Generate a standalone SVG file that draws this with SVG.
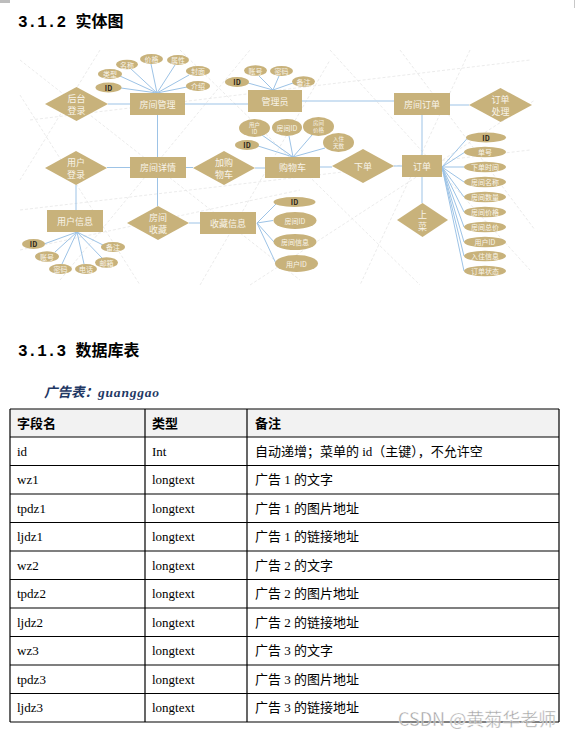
<svg xmlns="http://www.w3.org/2000/svg" width="585" height="739" viewBox="0 0 585 739">
<style>
.n{fill:#c8b27b}
.c line{stroke:#9dc3e6;stroke-width:1}
.bg line{stroke:#e6e6e6;stroke-width:0.8;stroke-dasharray:3 2}
.t{font-family:"Noto Sans CJK SC",sans-serif;fill:#f8f4ea;text-anchor:middle;dominant-baseline:central}
.s{font-size:9px}
.e{font-size:7px}
.e2{font-size:5.5px}
.d{fill:#2a2418;font-weight:bold}
.tb line{stroke:#000;stroke-width:1.2}
.cell{font-family:"Liberation Serif","Noto Sans CJK SC",serif;font-size:13px;fill:#000}
.hd{font-family:"Noto Sans CJK SC",sans-serif;font-size:13px;font-weight:bold;fill:#000}
.h{font-family:"Liberation Mono","Noto Sans CJK SC",monospace;font-size:16px;font-weight:bold;fill:#000}
</style>
<rect width="585" height="739" fill="#fff"/>
<rect x="0" y="0" width="10" height="3" fill="#bdbdbd"/>
<rect x="574" y="0" width="1" height="8" fill="#c8c8c8"/>
<text class="h" x="18" y="27">3.1.2 <tspan font-family="Noto Sans CJK SC,sans-serif">实体图</tspan></text>
<g class="bg">
<line x1="20" y1="60" x2="300" y2="280"/>
<line x1="30" y1="120" x2="530" y2="60"/>
<line x1="60" y1="280" x2="250" y2="50"/>
<line x1="180" y1="50" x2="420" y2="285"/>
<line x1="330" y1="50" x2="530" y2="270"/>
<line x1="20" y1="210" x2="530" y2="150"/>
<line x1="470" y1="50" x2="360" y2="285"/>
<line x1="20" y1="95" x2="140" y2="285"/>
<line x1="250" y1="285" x2="535" y2="100"/>
<line x1="100" y1="50" x2="20" y2="180"/>
<line x1="400" y1="50" x2="535" y2="230"/>
<line x1="200" y1="285" x2="330" y2="60"/>
<line x1="20" y1="250" x2="300" y2="190"/>
</g>
<g class="c">
<line x1="108" y1="104" x2="130" y2="104"/>
<line x1="157" y1="93" x2="121" y2="88"/>
<line x1="157" y1="93" x2="120" y2="76"/>
<line x1="157" y1="93" x2="130" y2="68"/>
<line x1="157" y1="93" x2="151" y2="64"/>
<line x1="157" y1="93" x2="175" y2="65"/>
<line x1="157" y1="93" x2="189" y2="75"/>
<line x1="157" y1="93" x2="187" y2="87"/>
<line x1="185" y1="104" x2="248" y2="104"/>
<line x1="273" y1="90" x2="248" y2="83"/>
<line x1="273" y1="90" x2="259" y2="76"/>
<line x1="273" y1="90" x2="279" y2="76"/>
<line x1="273" y1="90" x2="293" y2="83"/>
<line x1="302" y1="101" x2="394" y2="101"/>
<line x1="450" y1="105" x2="469" y2="105"/>
<line x1="422" y1="115" x2="422" y2="155"/>
<line x1="157.5" y1="115" x2="157.5" y2="157"/>
<line x1="107" y1="167.5" x2="130" y2="167.5"/>
<line x1="186" y1="167.5" x2="193" y2="167.5"/>
<line x1="255" y1="168" x2="265" y2="168"/>
<line x1="293" y1="157" x2="262" y2="135"/>
<line x1="293" y1="157" x2="289" y2="136"/>
<line x1="293" y1="157" x2="312" y2="135"/>
<line x1="293" y1="157" x2="325" y2="148"/>
<line x1="293" y1="157" x2="258" y2="146"/>
<line x1="320" y1="167" x2="332" y2="167"/>
<line x1="394" y1="166" x2="402" y2="166"/>
<line x1="442" y1="167" x2="468" y2="137.5"/>
<line x1="442" y1="167" x2="465" y2="152"/>
<line x1="442" y1="167" x2="464" y2="167"/>
<line x1="442" y1="167" x2="464" y2="182"/>
<line x1="442" y1="167" x2="464" y2="197"/>
<line x1="442" y1="167" x2="464" y2="212"/>
<line x1="442" y1="167" x2="464" y2="227"/>
<line x1="442" y1="167" x2="464" y2="242"/>
<line x1="442" y1="167" x2="464" y2="256"/>
<line x1="442" y1="167" x2="464" y2="271"/>
<line x1="422" y1="177" x2="422" y2="203"/>
<line x1="157.5" y1="178" x2="157.5" y2="206"/>
<line x1="189" y1="223" x2="200" y2="223"/>
<line x1="257" y1="223" x2="277" y2="203"/>
<line x1="257" y1="223" x2="273" y2="220.5"/>
<line x1="257" y1="223" x2="274" y2="242"/>
<line x1="257" y1="223" x2="276" y2="263.5"/>
<line x1="76" y1="185" x2="76" y2="210"/>
<line x1="77" y1="232" x2="44" y2="244"/>
<line x1="77" y1="232" x2="55" y2="252"/>
<line x1="77" y1="232" x2="62" y2="264"/>
<line x1="77" y1="232" x2="84" y2="264"/>
<line x1="77" y1="232" x2="102" y2="258"/>
<line x1="77" y1="232" x2="103" y2="245"/>
</g>
<g id="houtai"><polygon class="n" points="45,104 76.5,87 108,104 76.5,121"/><text class="t s" x="76.5" y="98.5">后台</text><text class="t s" x="76.5" y="110">登录</text></g>
<g id="fangjianguanli"><rect class="n" x="130" y="93" width="55" height="22"/><text class="t s" x="157.5" y="104">房间管理</text></g>
<g id="fg-id"><ellipse class="n" cx="108.5" cy="87.5" rx="13" ry="5"/><text class="t e d" x="108.5" y="87.5">ID</text></g>
<g id="fg-lx"><ellipse class="n" cx="110" cy="74" rx="12" ry="5"/><text class="t e" x="110" y="74">类型</text></g>
<g id="fg-mc"><ellipse class="n" cx="127" cy="64.5" rx="11" ry="4.8"/><text class="t e" x="127" y="64.5">名称</text></g>
<g id="fg-jg"><ellipse class="n" cx="151.5" cy="59" rx="11.5" ry="5"/><text class="t e" x="151.5" y="59">价格</text></g>
<g id="fg-sx"><ellipse class="n" cx="178" cy="60" rx="11" ry="5"/><text class="t e" x="178" y="60">属性</text></g>
<g id="fg-fm"><ellipse class="n" cx="198" cy="71" rx="12" ry="5"/><text class="t e" x="198" y="71">封面</text></g>
<g id="fg-js"><ellipse class="n" cx="198" cy="86" rx="12" ry="5"/><text class="t e" x="198" y="86">介绍</text></g>
<g id="guanliyuan"><rect class="n" x="248" y="90" width="54" height="22"/><text class="t s" x="275" y="101">管理员</text></g>
<g id="gl-id"><ellipse class="n" cx="237" cy="82" rx="12" ry="5"/><text class="t e d" x="237" y="82">ID</text></g>
<g id="gl-zh"><ellipse class="n" cx="255.5" cy="70.5" rx="11.5" ry="5.3"/><text class="t e" x="255.5" y="70.5">账号</text></g>
<g id="gl-mm"><ellipse class="n" cx="281.5" cy="71" rx="11.5" ry="5"/><text class="t e" x="281.5" y="71">密码</text></g>
<g id="gl-bz"><ellipse class="n" cx="303.5" cy="81.5" rx="11.5" ry="5.3"/><text class="t e" x="303.5" y="81.5">备注</text></g>
<g id="fangjiandingdan"><rect class="n" x="394" y="93" width="56" height="22"/><text class="t s" x="422" y="104">房间订单</text></g>
<g id="dingdanchuli"><polygon class="n" points="469,105 500.5,88 532,105 500.5,122"/><text class="t s" x="500.5" y="99.5">订单</text><text class="t s" x="500.5" y="111">处理</text></g>
<g id="yonghudenglu"><polygon class="n" points="45,168 76,151 107,168 76,185"/><text class="t s" x="76" y="162.5">用户</text><text class="t s" x="76" y="174">登录</text></g>
<g id="fangjianxiangqing"><rect class="n" x="130" y="157" width="56" height="21"/><text class="t s" x="158" y="167.5">房间详情</text></g>
<g id="jiagouwuche"><polygon class="n" points="193,168 224,151 255,168 224,185"/><text class="t s" x="224" y="162.5">加购</text><text class="t s" x="224" y="174">物车</text></g>
<g id="gouwuche"><rect class="n" x="265" y="157" width="55" height="21"/><text class="t s" x="292.5" y="167.5">购物车</text></g>
<g id="gw-yhid"><ellipse class="n" cx="254.5" cy="128" rx="15.5" ry="9"/><text class="t e2" x="254.5" y="124.5">用户</text><text class="t e2" x="254.5" y="131.5">ID</text></g>
<g id="gw-fjid"><ellipse class="n" cx="287" cy="127.5" rx="15" ry="8.5"/><text class="t e" x="287" y="127.5">房间ID</text></g>
<g id="gw-fjjg"><ellipse class="n" cx="318.5" cy="126.5" rx="15.5" ry="9.5"/><text class="t e2" x="318.5" y="123">房间</text><text class="t e2" x="318.5" y="130">价格</text></g>
<g id="gw-rzts"><ellipse class="n" cx="338.5" cy="142.5" rx="15.5" ry="9.5"/><text class="t e2" x="338.5" y="139">入住</text><text class="t e2" x="338.5" y="146">天数</text></g>
<g id="gw-id"><ellipse class="n" cx="247" cy="145" rx="12" ry="5"/><text class="t e d" x="247" y="145">ID</text></g>
<g id="xiadan"><polygon class="n" points="332,166 363,149 394,166 363,183"/><text class="t s" x="363" y="166">下单</text></g>
<g id="dingdan"><rect class="n" x="402" y="155" width="40" height="22"/><text class="t s" x="422" y="166">订单</text></g>
<g id="dd-id"><ellipse class="n" cx="486" cy="137.5" rx="20" ry="5"/><text class="t e d" x="486" y="137.5">ID</text></g>
<g id="dd-dh"><ellipse class="n" cx="485" cy="152" rx="21" ry="5.3"/><text class="t e" x="485" y="152">单号</text></g>
<g id="dd-xdsj"><ellipse class="n" cx="485" cy="167" rx="21" ry="5.3"/><text class="t e" x="485" y="167">下单时间</text></g>
<g id="dd-fjmc"><ellipse class="n" cx="485" cy="182" rx="21" ry="5.3"/><text class="t e" x="485" y="182">房间名称</text></g>
<g id="dd-fjsl"><ellipse class="n" cx="485" cy="197" rx="21" ry="5.3"/><text class="t e" x="485" y="197">房间数量</text></g>
<g id="dd-fjjg"><ellipse class="n" cx="485" cy="212" rx="21" ry="5.3"/><text class="t e" x="485" y="212">房间价格</text></g>
<g id="dd-fjzj"><ellipse class="n" cx="485" cy="227" rx="21" ry="5.3"/><text class="t e" x="485" y="227">房间总价</text></g>
<g id="dd-yhid"><ellipse class="n" cx="485" cy="242" rx="21" ry="5.3"/><text class="t e" x="485" y="242">用户ID</text></g>
<g id="dd-rzxx"><ellipse class="n" cx="485" cy="256" rx="21" ry="5.3"/><text class="t e" x="485" y="256">入住信息</text></g>
<g id="dd-ddzt"><ellipse class="n" cx="485" cy="271" rx="21" ry="5.3"/><text class="t e" x="485" y="271">订单状态</text></g>
<g id="shangcai"><polygon class="n" points="397,220 422.5,203 448,220 422.5,237"/><text class="t s" x="422.5" y="214.5">上</text><text class="t s" x="422.5" y="226">菜</text></g>
<g id="fangjianshoucang"><polygon class="n" points="127,223 158,206 189,223 158,240"/><text class="t s" x="158" y="217.5">房间</text><text class="t s" x="158" y="229">收藏</text></g>
<g id="shoucangxinxi"><rect class="n" x="200" y="212" width="56" height="22"/><text class="t s" x="228" y="223">收藏信息</text></g>
<g id="sc-id"><ellipse class="n" cx="294.5" cy="202" rx="21" ry="5"/><text class="t e d" x="294.5" y="202">ID</text></g>
<g id="sc-fjid"><ellipse class="n" cx="295" cy="220.5" rx="21.5" ry="8.5"/><text class="t e" x="295" y="220.5">房间ID</text></g>
<g id="sc-fjxx"><ellipse class="n" cx="295" cy="242" rx="21.5" ry="8"/><text class="t e" x="295" y="242">房间信息</text></g>
<g id="sc-yhid"><ellipse class="n" cx="296.5" cy="263.5" rx="21.5" ry="8.5"/><text class="t e" x="296.5" y="263.5">用户ID</text></g>
<g id="yonghuxinxi"><rect class="n" x="47" y="210" width="56" height="22"/><text class="t s" x="75" y="221">用户信息</text></g>
<g id="yh-id"><ellipse class="n" cx="33.5" cy="244" rx="11.5" ry="5"/><text class="t e d" x="33.5" y="244">ID</text></g>
<g id="yh-zh"><ellipse class="n" cx="47" cy="256.5" rx="12" ry="5.3"/><text class="t e" x="47" y="256.5">账号</text></g>
<g id="yh-mm"><ellipse class="n" cx="60.5" cy="269" rx="11.5" ry="5"/><text class="t e" x="60.5" y="269">密码</text></g>
<g id="yh-dh"><ellipse class="n" cx="86" cy="269" rx="11" ry="5"/><text class="t e" x="86" y="269">电话</text></g>
<g id="yh-yx"><ellipse class="n" cx="106.5" cy="262.5" rx="11.5" ry="5.3"/><text class="t e" x="106.5" y="262.5">邮箱</text></g>
<g id="yh-bz"><ellipse class="n" cx="113" cy="247" rx="12" ry="5"/><text class="t e" x="113" y="247">备注</text></g>
<text class="h" x="18" y="356">3.1.3 <tspan font-family="Noto Sans CJK SC,sans-serif">数据库表</tspan></text>
<text x="44" y="397" font-family="Liberation Serif,Noto Sans CJK SC,serif" font-size="13.5" font-weight="bold" font-style="italic" fill="#1f3864">广告表：<tspan letter-spacing="0.8">guanggao</tspan></text>
<g id="table">
<rect x="10" y="409" width="549" height="28" fill="#f2f2f2"/>
<g class="tb">
<line x1="10" y1="409" x2="559" y2="409"/>
<line x1="10" y1="437" x2="559" y2="437"/>
<line x1="10" y1="465.5" x2="559" y2="465.5"/>
<line x1="10" y1="494" x2="559" y2="494"/>
<line x1="10" y1="522.5" x2="559" y2="522.5"/>
<line x1="10" y1="551" x2="559" y2="551"/>
<line x1="10" y1="579.5" x2="559" y2="579.5"/>
<line x1="10" y1="608" x2="559" y2="608"/>
<line x1="10" y1="636.5" x2="559" y2="636.5"/>
<line x1="10" y1="665" x2="559" y2="665"/>
<line x1="10" y1="693.5" x2="559" y2="693.5"/>
<line x1="10" y1="722" x2="559" y2="722"/>
<line x1="10" y1="409" x2="10" y2="722"/>
<line x1="145" y1="409" x2="145" y2="722"/>
<line x1="247" y1="409" x2="247" y2="722"/>
<line x1="559" y1="409" x2="559" y2="722"/>
</g>
<text class="hd" x="17" y="428">字段名</text><text class="hd" x="152" y="428">类型</text><text class="hd" x="255" y="428">备注</text>
<text class="cell" x="17" y="456">id</text><text class="cell" x="152" y="456">Int</text><text class="cell" x="255" y="456">自动递增；菜单的 id（主键），不允许空</text>
<text class="cell" x="17" y="484">wz1</text><text class="cell" x="152" y="484">longtext</text><text class="cell" x="255" y="484">广告 1 的文字</text>
<text class="cell" x="17" y="513">tpdz1</text><text class="cell" x="152" y="513">longtext</text><text class="cell" x="255" y="513">广告 1 的图片地址</text>
<text class="cell" x="17" y="541">ljdz1</text><text class="cell" x="152" y="541">longtext</text><text class="cell" x="255" y="541">广告 1 的链接地址</text>
<text class="cell" x="17" y="570">wz2</text><text class="cell" x="152" y="570">longtext</text><text class="cell" x="255" y="570">广告 2 的文字</text>
<text class="cell" x="17" y="598">tpdz2</text><text class="cell" x="152" y="598">longtext</text><text class="cell" x="255" y="598">广告 2 的图片地址</text>
<text class="cell" x="17" y="627">ljdz2</text><text class="cell" x="152" y="627">longtext</text><text class="cell" x="255" y="627">广告 2 的链接地址</text>
<text class="cell" x="17" y="655">wz3</text><text class="cell" x="152" y="655">longtext</text><text class="cell" x="255" y="655">广告 3 的文字</text>
<text class="cell" x="17" y="684">tpdz3</text><text class="cell" x="152" y="684">longtext</text><text class="cell" x="255" y="684">广告 3 的图片地址</text>
<text class="cell" x="17" y="712">ljdz3</text><text class="cell" x="152" y="712">longtext</text><text class="cell" x="255" y="712">广告 3 的链接地址</text>
</g>
<text x="398" y="726" font-family="Noto Sans CJK SC,sans-serif" font-size="18" fill="#9a9a9a" stroke="#fff" stroke-width="0.4" opacity="0.9">CSDN @黄菊华老师</text>
</svg>
